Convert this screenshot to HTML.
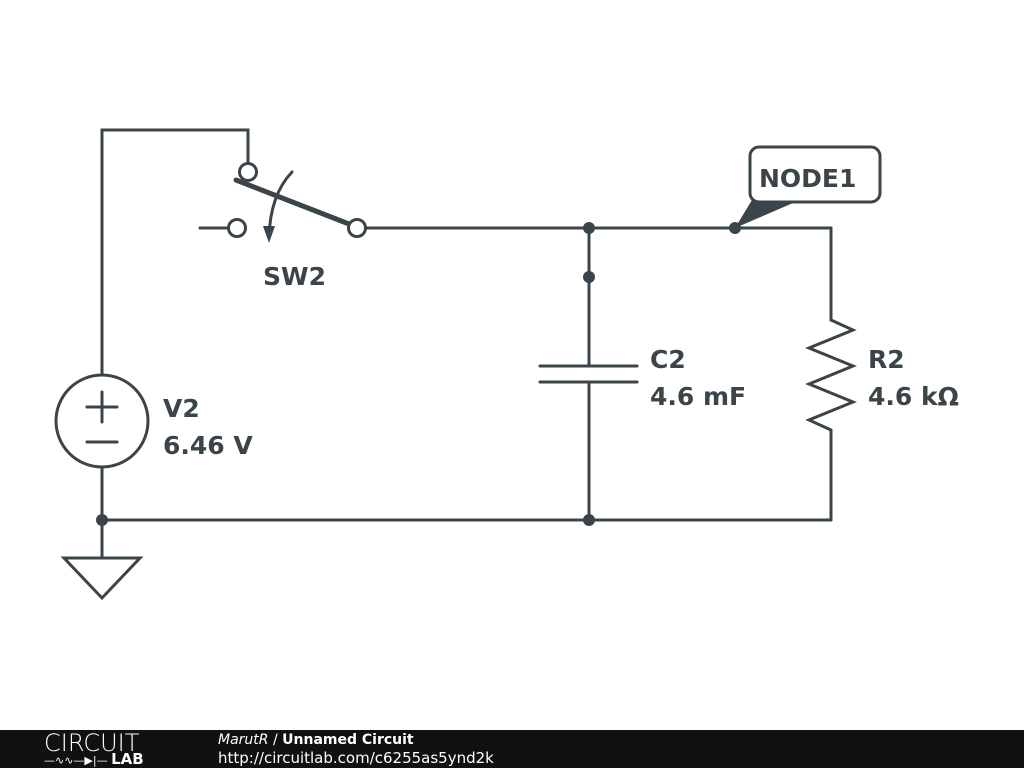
<!DOCTYPE html>
<html><head><style>
body{margin:0;width:1024px;height:768px;background:#fff;overflow:hidden;position:relative;font-family:"DejaVu Sans",sans-serif}
#f{position:absolute;left:0;top:730px;width:1024px;height:38px;background:#111}
</style></head><body>
<svg width="1024" height="730" style="position:absolute;left:0;top:0">
<g stroke="#3b4448" stroke-width="3" fill="none" stroke-linecap="round">
<polyline points="248,163 248,130 102,130 102,375"/>
<circle cx="102" cy="421" r="46"/>
<line x1="87" y1="407" x2="117" y2="407"/><line x1="102" y1="392" x2="102" y2="422"/>
<line x1="87" y1="442" x2="117" y2="442"/>
<polyline points="102,467 102,558"/>
<polygon points="64,558 140,558 102,598" stroke-linejoin="miter"/>
<line x1="102" y1="520" x2="831" y2="520"/>
<circle cx="248" cy="172" r="8.5" fill="#fff"/>
<line x1="200" y1="228" x2="228" y2="228"/>
<circle cx="237" cy="228" r="8.5" fill="#fff"/>
<line x1="236" y1="180" x2="349" y2="224" stroke-width="5"/>
<circle cx="357" cy="228" r="8.5" fill="#fff"/>
<line x1="366" y1="228" x2="831" y2="228"/>
<path d="M292,172 Q270,195 269,238"/>
<line x1="589" y1="228" x2="589" y2="366"/>
<line x1="540" y1="366" x2="637" y2="366"/><line x1="540" y1="382" x2="637" y2="382"/>
<line x1="589" y1="382" x2="589" y2="520"/>
<polyline points="831,228 831,320 853,330 809,348 853,366 809,384 853,402 809,420 831,430 831,520" stroke-linejoin="miter"/>
</g>
<polygon points="263,226 275,226 269,243" fill="#3b4448"/>
<g fill="#3b4448">
<circle cx="102" cy="520" r="6"/><circle cx="589" cy="520" r="6"/><circle cx="589" cy="228" r="6"/><circle cx="589" cy="277" r="6"/><circle cx="735" cy="228" r="6"/>
<polygon points="735,228 752,200 800,200"/>
</g>
<rect x="750" y="147" width="130" height="55" rx="9" fill="#fff" stroke="#3b4448" stroke-width="3"/>
<g fill="#3b4448" font-family="DejaVu Sans,sans-serif" font-weight="bold" font-size="25">
<text x="759" y="187">NODE1</text>
<text x="263" y="285">SW2</text>
<text x="163" y="417">V2</text><text x="163" y="454">6.46 V</text>
<text x="650" y="368">C2</text><text x="650" y="405">4.6 mF</text>
<text x="868" y="368">R2</text><text x="868" y="405">4.6 kΩ</text>
</g>
</svg>
<div id="f">
<div style="position:absolute;left:44px;top:0;color:#fff;font-size:24px;letter-spacing:0px;line-height:26px;font-weight:300">CIRCUIT</div>
<div style="position:absolute;left:44px;top:22px;color:#fff;font-size:11px;line-height:14px">—∿∿—▶|— <b style="font-size:15px">LAB</b></div>
<div style="position:absolute;left:218px;top:2px;color:#fff;font-size:14px;line-height:17px"><i>MarutR</i> / <b>Unnamed Circuit</b></div>
<div style="position:absolute;left:218px;top:20px;color:#fff;font-size:15px;line-height:17px">http://circuitlab.com/c6255as5ynd2k</div>
</div>
</body></html>
